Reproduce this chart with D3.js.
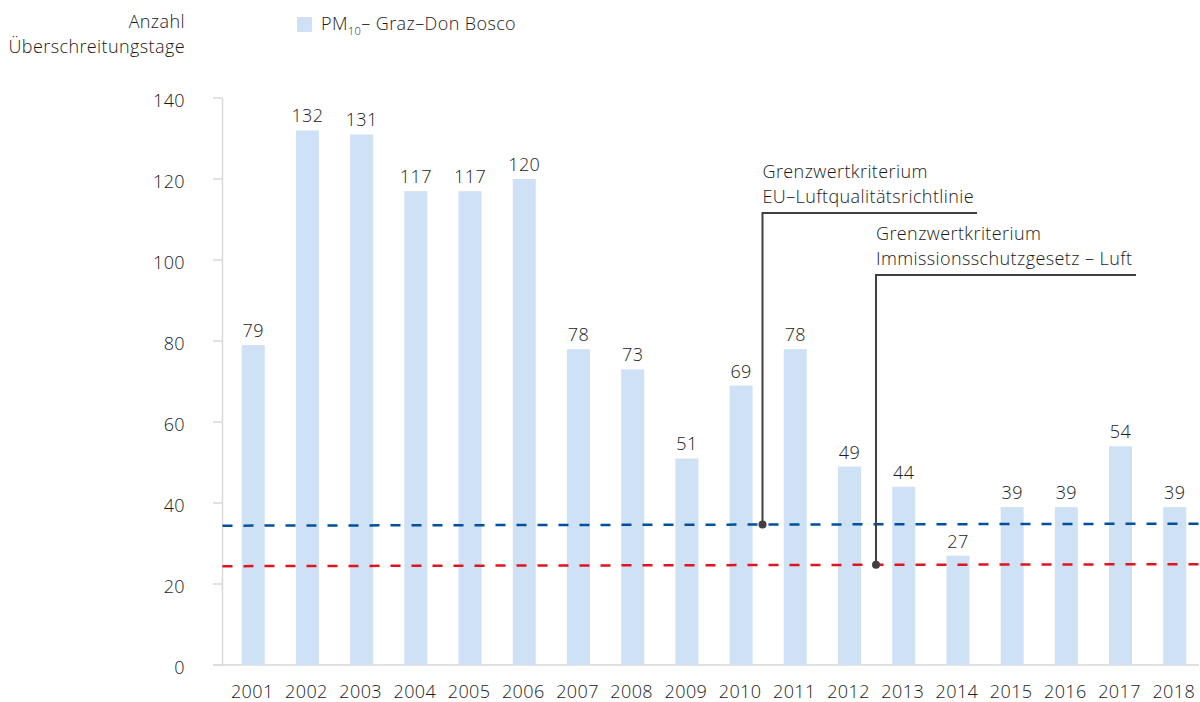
<!DOCTYPE html>
<html>
<head>
<meta charset="utf-8">
<script src="https://cdn.jsdelivr.net/npm/d3@7"></script>
<style>
    body { margin: 0; background: #fff; }
    #chart { width: 1200px; height: 702px; }
    text { font-family: "Open Sans", Lato, sans-serif; font-weight: 300; fill: #1a1a1a; letter-spacing: 0.4px; }
</style>
</head>
<body>
<div id="chart"></div>
<script>
const years = ["2001","2002","2003","2004","2005","2006","2007","2008","2009","2010","2011","2012","2013","2014","2015","2016","2017","2018"];
const days = [79, 132, 131, 117, 117, 120, 78, 73, 51, 69, 78, 49, 44, 27, 39, 39, 54, 39];
const yTicks = [0, 20, 40, 60, 80, 100, 120, 140];
// limit lines, value at left and right edge of the plot
const limitEU = [34.4, 34.9];
const limitIG = [24.4, 24.9];
const labelEU = ["Grenzwertkriterium", "EU–Luftqualitätsrichtlinie"];
const labelIG = ["Grenzwertkriterium", "Immissionsschutzgesetz – Luft"];

const fontSize = "18px";

const svg = d3.select("#chart").append("svg")
    .attr("width", 1200)
    .attr("height", 702);

const plotLeft = 222.5, plotRight = 1199;

const xScale = d3.scaleBand()
    .domain(years)
    .range([226, 1202])
    .paddingInner(0.575)
    .paddingOuter(0.29);

const yScale = d3.scaleLinear()
    .domain([0, 140])
    .range([665, 98]);

const xLin = d3.scaleLinear().domain([0, 1]).range([plotLeft, 1200]);

// axes
svg.append("line")
    .attr("x1", plotLeft).attr("x2", plotLeft)
    .attr("y1", yScale(140)).attr("y2", yScale(0))
    .attr("stroke", "#d9d9d9").attr("stroke-width", 1.5);
svg.append("line")
    .attr("x1", 213).attr("x2", plotRight)
    .attr("y1", yScale(0)).attr("y2", yScale(0))
    .attr("stroke", "#d9d9d9").attr("stroke-width", 1.5);

svg.selectAll(".ytick")
    .data(yTicks)
    .enter().append("line")
    .attr("x1", 213).attr("x2", plotLeft)
    .attr("y1", d => yScale(d)).attr("y2", d => yScale(d))
    .attr("stroke", "#d9d9d9").attr("stroke-width", 1.5);

svg.selectAll(".ylabel")
    .data(yTicks)
    .enter().append("text")
    .attr("x", 185)
    .attr("y", d => yScale(d) + 9)
    .attr("text-anchor", "end")
    .style("font-size", fontSize)
    .text(d => d);

svg.selectAll(".xlabel")
    .data(years)
    .enter().append("text")
    .attr("x", d => xScale(d) + xScale.bandwidth() / 2 - 1)
    .attr("y", 698)
    .attr("text-anchor", "middle")
    .style("font-size", fontSize)
    .text(d => d);

// bars
svg.selectAll(".bar")
    .data(days)
    .enter().append("rect")
    .attr("x", (d, i) => xScale(years[i]))
    .attr("y", d => yScale(d))
    .attr("width", xScale.bandwidth())
    .attr("height", d => yScale(0) - yScale(d))
    .attr("fill", "#cfe2f5");

svg.selectAll(".val")
    .data(days)
    .enter().append("text")
    .attr("x", (d, i) => xScale(years[i]) + xScale.bandwidth() / 2)
    .attr("y", d => yScale(d) - 8)
    .attr("text-anchor", "middle")
    .style("font-size", fontSize)
    .text(d => d);

// limit lines
function limitLine(vals, color) {
    svg.append("line")
        .attr("x1", xLin(0)).attr("x2", xLin(1))
        .attr("y1", yScale(vals[0])).attr("y2", yScale(vals[1]))
        .attr("stroke", color)
        .attr("stroke-width", 2.5)
        .attr("stroke-dasharray", "10,11");
}
limitLine(limitEU, "#0050a0");
limitLine(limitIG, "#e0141e");

// callouts
function callout(lines, vals, x, topY, right) {
    const t = (x - plotLeft) / (1200 - plotLeft);
    const yAt = yScale(vals[0] + (vals[1] - vals[0]) * t);
    svg.append("polyline")
        .attr("points", `${right},${topY} ${x},${topY} ${x},${yAt}`)
        .attr("fill", "none")
        .attr("stroke", "#404040")
        .attr("stroke-width", 2);
    svg.append("circle")
        .attr("cx", x).attr("cy", yAt).attr("r", 4)
        .attr("fill", "#404040");
    lines.forEach((l, i) => {
        svg.append("text")
            .attr("x", x)
            .attr("y", topY - 35 + i * 25)
            .style("font-size", fontSize)
            .text(l);
    });
}
callout(labelEU, limitEU, 762.5, 213, 977);
callout(labelIG, limitIG, 876, 275, 1136);

// y title
svg.append("text")
    .attr("x", 185).attr("y", 28)
    .attr("text-anchor", "end")
    .style("font-size", fontSize)
    .text("Anzahl");
svg.append("text")
    .attr("x", 185).attr("y", 53)
    .attr("text-anchor", "end")
    .style("font-size", fontSize)
    .text("Überschreitungstage");

// legend
svg.append("rect")
    .attr("x", 297).attr("y", 17)
    .attr("width", 15).attr("height", 15)
    .attr("fill", "#cfe2f5");
const leg = svg.append("text")
    .attr("x", 321).attr("y", 30)
    .style("font-size", fontSize);
leg.append("tspan").text("PM");
leg.append("tspan").attr("dy", 5).style("font-size", "11px").text("10");
leg.append("tspan").attr("dy", -5).text("– Graz–Don Bosco");
</script>
</body>
</html>
